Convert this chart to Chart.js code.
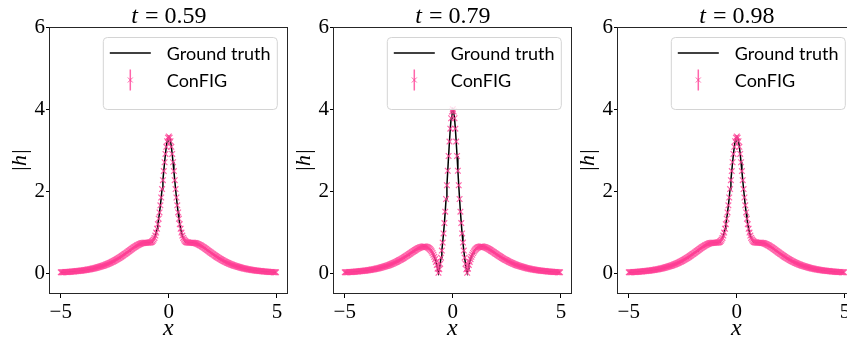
<!DOCTYPE html>
<html>
<head>
<meta charset="utf-8">
<script src="https://cdn.jsdelivr.net/npm/chart.js@4.4.1/dist/chart.umd.min.js"></script>
<style>
  html, body { margin: 0; padding: 0; background: #fff; overflow: hidden; }
  #wrap { position: relative; width: 847px; height: 341px; overflow: hidden; background: #fff; }
  #wrap canvas { position: absolute; top: 0; }
</style>
</head>
<body>
<div id="wrap">
  <canvas id="panel0" width="292" height="341" style="left:0px"></canvas>
  <canvas id="panel1" width="292" height="341" style="left:284px"></canvas>
  <canvas id="panel2" width="292" height="341" style="left:568px"></canvas>
</div>
<script>
// sampling grid: 256 points on [-5, 5)
const xGrid = Array.from({ length: 256 }, (_, i) => -5 + i * 10 / 256);

const timeLabels = ['0.59', '0.79', '0.98'];
const xTicks = [-5, 0, 5];
const yTicks = [0, 2, 4, 6];

// |h(x)| at t = 0.59
const h059 = [
  0.027, 0.028, 0.029, 0.030, 0.032, 0.033, 0.034, 0.035, 0.037, 0.038, 0.040, 0.041, 0.043, 0.045, 0.047, 0.048,
  0.050, 0.052, 0.054, 0.057, 0.059, 0.061, 0.064, 0.066, 0.069, 0.071, 0.074, 0.077, 0.080, 0.083, 0.087, 0.090,
  0.094, 0.097, 0.101, 0.105, 0.109, 0.114, 0.118, 0.123, 0.128, 0.133, 0.138, 0.143, 0.149, 0.155, 0.161, 0.167,
  0.174, 0.180, 0.187, 0.195, 0.202, 0.210, 0.218, 0.226, 0.235, 0.244, 0.253, 0.263, 0.272, 0.283, 0.293, 0.304,
  0.315, 0.327, 0.339, 0.351, 0.363, 0.376, 0.389, 0.402, 0.416, 0.430, 0.444, 0.459, 0.474, 0.488, 0.504, 0.519,
  0.534, 0.549, 0.564, 0.580, 0.595, 0.610, 0.624, 0.638, 0.652, 0.665, 0.678, 0.689, 0.700, 0.710, 0.719, 0.727,
  0.734, 0.739, 0.744, 0.747, 0.749, 0.750, 0.750, 0.750, 0.750, 0.751, 0.755, 0.762, 0.775, 0.795, 0.824, 0.866,
  0.923, 0.996, 1.088, 1.200, 1.332, 1.485, 1.658, 1.849, 2.055, 2.272, 2.492, 2.708, 2.909, 3.084, 3.219, 3.305,
  3.334, 3.305, 3.219, 3.084, 2.909, 2.708, 2.492, 2.272, 2.055, 1.849, 1.658, 1.485, 1.332, 1.200, 1.088, 0.996,
  0.923, 0.866, 0.824, 0.795, 0.775, 0.762, 0.755, 0.751, 0.750, 0.750, 0.750, 0.750, 0.749, 0.747, 0.744, 0.739,
  0.734, 0.727, 0.719, 0.710, 0.700, 0.689, 0.678, 0.665, 0.652, 0.638, 0.624, 0.610, 0.595, 0.580, 0.564, 0.549,
  0.534, 0.519, 0.504, 0.488, 0.474, 0.459, 0.444, 0.430, 0.416, 0.402, 0.389, 0.376, 0.363, 0.351, 0.339, 0.327,
  0.315, 0.304, 0.293, 0.283, 0.272, 0.263, 0.253, 0.244, 0.235, 0.226, 0.218, 0.210, 0.202, 0.195, 0.187, 0.180,
  0.174, 0.167, 0.161, 0.155, 0.149, 0.143, 0.138, 0.133, 0.128, 0.123, 0.118, 0.114, 0.109, 0.105, 0.101, 0.097,
  0.094, 0.090, 0.087, 0.083, 0.080, 0.077, 0.074, 0.071, 0.069, 0.066, 0.064, 0.061, 0.059, 0.057, 0.054, 0.052,
  0.050, 0.048, 0.047, 0.045, 0.043, 0.041, 0.040, 0.038, 0.037, 0.035, 0.034, 0.033, 0.032, 0.030, 0.029, 0.028
];

// |h(x)| at t = 0.79
const h079 = [
  0.027, 0.028, 0.029, 0.030, 0.032, 0.033, 0.034, 0.035, 0.037, 0.038, 0.040, 0.041, 0.043, 0.045, 0.047, 0.048,
  0.050, 0.052, 0.054, 0.057, 0.059, 0.061, 0.064, 0.066, 0.069, 0.071, 0.074, 0.077, 0.080, 0.083, 0.087, 0.090,
  0.094, 0.097, 0.101, 0.105, 0.109, 0.114, 0.118, 0.123, 0.128, 0.133, 0.138, 0.143, 0.149, 0.155, 0.161, 0.167,
  0.173, 0.180, 0.187, 0.194, 0.202, 0.209, 0.217, 0.226, 0.234, 0.243, 0.252, 0.262, 0.271, 0.281, 0.292, 0.302,
  0.313, 0.325, 0.336, 0.348, 0.360, 0.373, 0.385, 0.398, 0.411, 0.425, 0.438, 0.452, 0.466, 0.480, 0.494, 0.508,
  0.522, 0.536, 0.549, 0.562, 0.575, 0.588, 0.600, 0.611, 0.621, 0.630, 0.638, 0.645, 0.650, 0.654, 0.656, 0.655,
  0.652, 0.646, 0.637, 0.625, 0.609, 0.589, 0.564, 0.534, 0.498, 0.456, 0.406, 0.349, 0.282, 0.205, 0.117, 0.016,
  0.100, 0.233, 0.385, 0.557, 0.753, 0.975, 1.226, 1.505, 1.813, 2.147, 2.500, 2.860, 3.210, 3.525, 3.778, 3.943,
  4.000, 3.943, 3.778, 3.525, 3.210, 2.860, 2.500, 2.147, 1.813, 1.505, 1.226, 0.975, 0.753, 0.557, 0.385, 0.233,
  0.100, 0.016, 0.117, 0.205, 0.282, 0.349, 0.406, 0.456, 0.498, 0.534, 0.564, 0.589, 0.609, 0.625, 0.637, 0.646,
  0.652, 0.655, 0.656, 0.654, 0.650, 0.645, 0.638, 0.630, 0.621, 0.611, 0.600, 0.588, 0.575, 0.562, 0.549, 0.536,
  0.522, 0.508, 0.494, 0.480, 0.466, 0.452, 0.438, 0.425, 0.411, 0.398, 0.385, 0.373, 0.360, 0.348, 0.336, 0.325,
  0.313, 0.302, 0.292, 0.281, 0.271, 0.262, 0.252, 0.243, 0.234, 0.226, 0.217, 0.209, 0.202, 0.194, 0.187, 0.180,
  0.173, 0.167, 0.161, 0.155, 0.149, 0.143, 0.138, 0.133, 0.128, 0.123, 0.118, 0.114, 0.109, 0.105, 0.101, 0.097,
  0.094, 0.090, 0.087, 0.083, 0.080, 0.077, 0.074, 0.071, 0.069, 0.066, 0.064, 0.061, 0.059, 0.057, 0.054, 0.052,
  0.050, 0.048, 0.047, 0.045, 0.043, 0.041, 0.040, 0.038, 0.037, 0.035, 0.034, 0.033, 0.032, 0.030, 0.029, 0.028
];

// |h(x)| at t = 0.98
const h098 = [
  0.027, 0.028, 0.029, 0.030, 0.032, 0.033, 0.034, 0.035, 0.037, 0.038, 0.040, 0.041, 0.043, 0.045, 0.047, 0.048,
  0.050, 0.052, 0.054, 0.057, 0.059, 0.061, 0.064, 0.066, 0.069, 0.071, 0.074, 0.077, 0.080, 0.083, 0.087, 0.090,
  0.094, 0.097, 0.101, 0.105, 0.109, 0.114, 0.118, 0.123, 0.128, 0.133, 0.138, 0.143, 0.149, 0.155, 0.161, 0.167,
  0.174, 0.180, 0.187, 0.195, 0.202, 0.210, 0.218, 0.226, 0.235, 0.244, 0.253, 0.263, 0.272, 0.283, 0.293, 0.304,
  0.315, 0.327, 0.339, 0.351, 0.363, 0.376, 0.389, 0.402, 0.416, 0.430, 0.444, 0.459, 0.474, 0.488, 0.504, 0.519,
  0.534, 0.549, 0.564, 0.580, 0.595, 0.610, 0.624, 0.638, 0.652, 0.665, 0.678, 0.689, 0.700, 0.710, 0.719, 0.727,
  0.734, 0.739, 0.744, 0.747, 0.749, 0.750, 0.750, 0.750, 0.750, 0.751, 0.755, 0.762, 0.775, 0.795, 0.824, 0.866,
  0.923, 0.996, 1.088, 1.200, 1.332, 1.485, 1.658, 1.849, 2.055, 2.272, 2.492, 2.708, 2.909, 3.084, 3.219, 3.305,
  3.334, 3.305, 3.219, 3.084, 2.909, 2.708, 2.492, 2.272, 2.055, 1.849, 1.658, 1.485, 1.332, 1.200, 1.088, 0.996,
  0.923, 0.866, 0.824, 0.795, 0.775, 0.762, 0.755, 0.751, 0.750, 0.750, 0.750, 0.750, 0.749, 0.747, 0.744, 0.739,
  0.734, 0.727, 0.719, 0.710, 0.700, 0.689, 0.678, 0.665, 0.652, 0.638, 0.624, 0.610, 0.595, 0.580, 0.564, 0.549,
  0.534, 0.519, 0.504, 0.488, 0.474, 0.459, 0.444, 0.430, 0.416, 0.402, 0.389, 0.376, 0.363, 0.351, 0.339, 0.327,
  0.315, 0.304, 0.293, 0.283, 0.272, 0.263, 0.253, 0.244, 0.235, 0.226, 0.218, 0.210, 0.202, 0.195, 0.187, 0.180,
  0.174, 0.167, 0.161, 0.155, 0.149, 0.143, 0.138, 0.133, 0.128, 0.123, 0.118, 0.114, 0.109, 0.105, 0.101, 0.097,
  0.094, 0.090, 0.087, 0.083, 0.080, 0.077, 0.074, 0.071, 0.069, 0.066, 0.064, 0.061, 0.059, 0.057, 0.054, 0.052,
  0.050, 0.048, 0.047, 0.045, 0.043, 0.041, 0.040, 0.038, 0.037, 0.035, 0.034, 0.033, 0.032, 0.030, 0.029, 0.028
];

const panelSeries = [h059, h079, h098];

const PINK = 'rgba(255, 64, 150, 0.8)';
const SERIF = '"Liberation Serif", "DejaVu Serif", serif';
const SANS = 'Lato, "Open Sans", sans-serif';

// full box around the axes
const framePlugin = {
  id: 'frame',
  afterDatasetsDraw(chart) {
    const { ctx, chartArea: a } = chart;
    ctx.save();
    ctx.strokeStyle = '#262626';
    ctx.lineWidth = 1;
    ctx.strokeRect(Math.round(a.left) - 0.5, Math.round(a.top) + 0.5,
                   Math.round(a.right - a.left) + 1, Math.round(a.bottom - a.top) - 1);
    ctx.restore();
  }
};

// "t = 0.59" style title, italic t
const titlePlugin = {
  id: 'panelTitle',
  afterDraw(chart, args, opts) {
    const { ctx, chartArea: a } = chart;
    const cx = (a.left + a.right) / 2;
    const italic = 'italic 24px ' + SERIF;
    const roman = '24px ' + SERIF;
    const rest = ' = ' + opts.text;
    ctx.save();
    ctx.fillStyle = '#000';
    ctx.textBaseline = 'alphabetic';
    ctx.font = italic;
    const w1 = ctx.measureText('t').width;
    ctx.font = roman;
    const w2 = ctx.measureText(rest).width;
    const x0 = cx - (w1 + w2) / 2;
    ctx.font = italic;
    ctx.fillText('t', x0, 23);
    ctx.font = roman;
    ctx.fillText(rest, x0 + w1 + 1, 23);
    ctx.restore();
  }
};

// legend box in the upper right corner of the axes
const boxLegendPlugin = {
  id: 'boxLegend',
  afterDraw(chart) {
    const { ctx, chartArea: a } = chart;
    const w = 174, h = 72;
    const left = a.right - 10 - w;
    const top = a.top + 10;
    ctx.save();
    ctx.beginPath();
    ctx.roundRect(left + 0.5, top + 0.5, w, h, 4);
    ctx.fillStyle = 'rgba(255,255,255,0.8)';
    ctx.fill();
    ctx.strokeStyle = '#d4d4d4';
    ctx.lineWidth = 1;
    ctx.stroke();

    // ground truth sample
    const y1 = top + 16;
    ctx.beginPath();
    ctx.moveTo(left + 7, y1);
    ctx.lineTo(left + 48, y1);
    ctx.strokeStyle = '#000';
    ctx.lineWidth = 1.5;
    ctx.stroke();

    // ConFIG sample: error bar with x marker
    const y2 = top + 43;
    const xm = left + 27.5;
    ctx.strokeStyle = PINK;
    ctx.lineWidth = 1.5;
    ctx.beginPath();
    ctx.moveTo(xm, y2 - 10.5);
    ctx.lineTo(xm, y2 + 10.5);
    ctx.stroke();
    ctx.lineWidth = 1;
    ctx.beginPath();
    ctx.moveTo(xm - 2.5, y2 - 2.5);
    ctx.lineTo(xm + 2.5, y2 + 2.5);
    ctx.moveTo(xm + 2.5, y2 - 2.5);
    ctx.lineTo(xm - 2.5, y2 + 2.5);
    ctx.stroke();

    ctx.fillStyle = '#000';
    ctx.font = '18px ' + SANS;
    ctx.textBaseline = 'middle';
    ctx.fillText('Ground truth', left + 64, y1 + 1);
    ctx.fillText('ConFIG', left + 64, y2 + 1);
    ctx.restore();
  }
};

function fixedTicks(values) {
  return function (scale) {
    scale.ticks = values.map(v => ({ value: v }));
  };
}

function fmt(v) {
  return v < 0 ? '\u2212' + Math.abs(v) : String(v);
}

function makePanel(canvasId, series, label) {
  const truth = xGrid.map((x, i) => ({ x: x, y: series[i] }));
  const pred = xGrid.map((x, i) => ({ x: x, y: series[i] }));
  return new Chart(document.getElementById(canvasId), {
    type: 'line',
    data: {
      datasets: [
        {
          label: 'ConFIG',
          data: pred,
          showLine: false,
          pointStyle: 'crossRot',
          pointRadius: 4,
          pointBorderWidth: 1.2,
          pointBorderColor: PINK,
          borderColor: PINK,
          order: 0
        },
        {
          label: 'Ground truth',
          data: truth,
          borderColor: '#000',
          borderWidth: 1.5,
          pointRadius: 0,
          tension: 0,
          order: 1
        }
      ]
    },
    options: {
      responsive: false,
      animation: false,
      devicePixelRatio: 1,
      layout: { padding: { left: 0, top: 27, right: 5, bottom: 0 } },
      plugins: {
        legend: { display: false },
        tooltip: { enabled: false },
        panelTitle: { text: label }
      },
      scales: {
        x: {
          type: 'linear',
          min: -5.498,
          max: 5.459,
          afterBuildTicks: fixedTicks(xTicks),
          afterFit(scale) { scale.height = 47; },
          border: { display: false },
          grid: { drawOnChartArea: false, drawTicks: true, tickLength: 4, color: '#000', lineWidth: 1 },
          ticks: {
            color: '#000',
            padding: 2,
            maxRotation: 0,
            font: { family: SERIF, size: 21 },
            callback: v => fmt(v)
          },
          title: {
            display: true,
            text: 'x',
            color: '#000',
            padding: { top: 0, bottom: 0 },
            font: { family: SERIF, size: 24, style: 'italic', lineHeight: 1.0 }
          }
        },
        y: {
          type: 'linear',
          min: -0.5,
          max: 6,
          afterBuildTicks: fixedTicks(yTicks),
          afterFit(scale) { scale.width = 50; },
          border: { display: false },
          grid: { drawOnChartArea: false, drawTicks: true, tickLength: 4, color: '#000', lineWidth: 1 },
          ticks: {
            color: '#000',
            padding: 1,
            font: { family: SERIF, size: 21 },
            callback: v => fmt(v)
          },
          title: {
            display: true,
            text: '|h|',
            color: '#000',
            padding: { top: 7, bottom: 0 },
            font: { family: SERIF, size: 22, style: 'italic', lineHeight: 1.2 }
          }
        }
      }
    },
    plugins: [framePlugin, titlePlugin, boxLegendPlugin]
  });
}

panelSeries.forEach((series, i) => makePanel('panel' + i, series, timeLabels[i]));
</script>
</body>
</html>
